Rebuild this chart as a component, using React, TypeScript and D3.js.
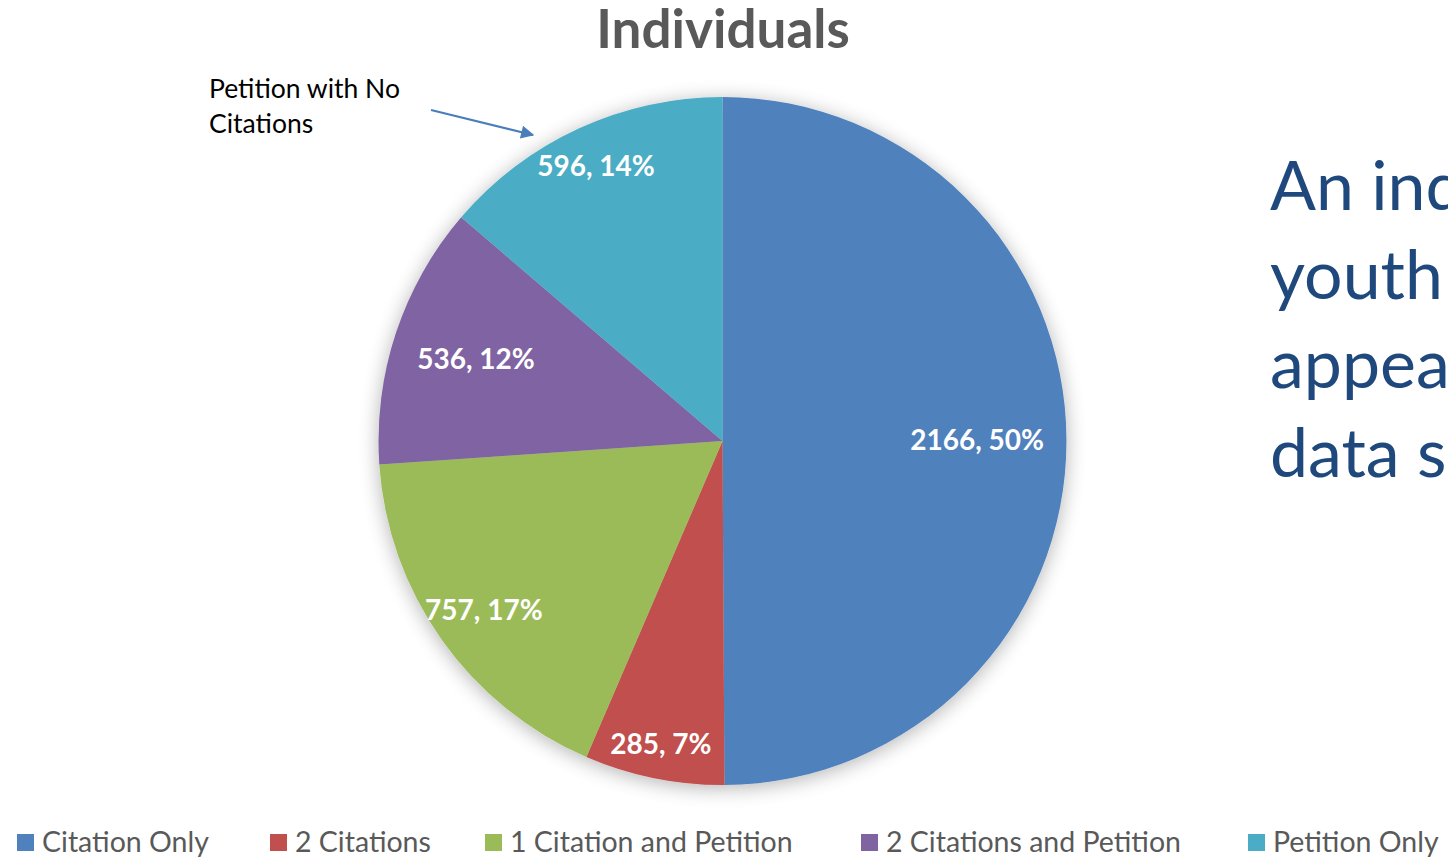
import { useEffect, useRef } from "react";
import * as d3 from "d3";

const categories = [
  "Citation Only",
  "2 Citations",
  "1 Citation and Petition",
  "2 Citations and Petition",
  "Petition Only",
];
const values = [2166, 285, 757, 536, 596];
const percentLabels = ["50%", "7%", "17%", "12%", "14%"];
const colors = ["#4F81BD", "#C0504D", "#9BBB59", "#8064A2", "#4BACC6"];

// label distance from center, as a share of the radius (Excel best fit)
const labelRadius = [0.74, 0.9, 0.85, 0.755, 0.88];
const legendX = [17, 270, 485, 861, 1248];

const sideText = ["An individual", "youth may", "appear in the", "data set"];

const FONT = "Lato, 'Noto Sans', sans-serif";

const App = () => {
  const svgRef = useRef<SVGSVGElement>(null);

  useEffect(() => {
    if (!svgRef.current) return;
    const svg = d3.select(svgRef.current);
    svg.selectAll("*").remove();

    const width = 1448;
    const height = 858;
    const cx = 722.5;
    const cy = 441;
    const r = 344;

    svg.attr("width", width).attr("height", height);

    const defs = svg.append("defs");
    const f = defs
      .append("filter")
      .attr("id", "pieShadow")
      .attr("x", "-20%")
      .attr("y", "-20%")
      .attr("width", "140%")
      .attr("height", "140%");
    f.append("feGaussianBlur").attr("in", "SourceAlpha").attr("stdDeviation", 10).attr("result", "blur");
    f.append("feOffset").attr("in", "blur").attr("dy", 3).attr("result", "off");
    f.append("feComponentTransfer")
      .attr("in", "off")
      .attr("result", "shadow")
      .append("feFuncA")
      .attr("type", "linear")
      .attr("slope", 0.3);
    const merge = f.append("feMerge");
    merge.append("feMergeNode").attr("in", "shadow");
    merge.append("feMergeNode").attr("in", "SourceGraphic");

    const marker = defs
      .append("marker")
      .attr("id", "arrowHead")
      .attr("viewBox", "0 0 10 10")
      .attr("refX", 9)
      .attr("refY", 5)
      .attr("markerWidth", 7)
      .attr("markerHeight", 6)
      .attr("markerUnits", "strokeWidth")
      .attr("orient", "auto");
    marker.append("path").attr("d", "M0,0 L10,5 L0,10 z").attr("fill", "#4A7EBB");

    // title
    svg
      .append("text")
      .attr("x", 723)
      .attr("y", 48)
      .attr("text-anchor", "middle")
      .attr("font-family", FONT)
      .attr("font-weight", 700)
      .attr("font-size", 53)
      .attr("fill", "#595959")
      .text("Individuals");

    const pie = d3
      .pie<number>()
      .sort(null)
      .value((d) => d);
    const arcs = pie(values);
    const arc = d3.arc<d3.PieArcDatum<number>>().innerRadius(0).outerRadius(r);

    const g = svg.append("g").attr("transform", `translate(${cx},${cy})`);

    g.append("g")
      .attr("filter", "url(#pieShadow)")
      .selectAll("path")
      .data(arcs)
      .join("path")
      .attr("d", arc)
      .attr("fill", (_, i) => colors[i]);

    g.selectAll(".label")
      .data(arcs)
      .join("text")
      .attr("class", "label")
      .attr("transform", (d, i) => {
        const a = (d.startAngle + d.endAngle) / 2;
        const rr = r * labelRadius[i];
        return `translate(${Math.sin(a) * rr},${-Math.cos(a) * rr})`;
      })
      .attr("text-anchor", "middle")
      .attr("dy", "0.36em")
      .attr("font-family", FONT)
      .attr("font-weight", 700)
      .attr("font-size", 28)
      .attr("fill", "#FFFFFF")
      .text((d, i) => `${d.data}, ${percentLabels[i]}`);

    // annotation
    const note = svg
      .append("text")
      .attr("font-family", FONT)
      .attr("font-size", 26.5)
      .attr("fill", "#000000");
    note.append("tspan").attr("x", 209).attr("y", 98).text("Petition with No");
    note.append("tspan").attr("x", 209).attr("y", 133).text("Citations");

    svg
      .append("line")
      .attr("x1", 431)
      .attr("y1", 110)
      .attr("x2", 533)
      .attr("y2", 135)
      .attr("stroke", "#4A7EBB")
      .attr("stroke-width", 2.2)
      .attr("marker-end", "url(#arrowHead)");

    // legend
    const leg = svg
      .append("g")
      .selectAll("g")
      .data(categories)
      .join("g")
      .attr("transform", (_, i) => `translate(${legendX[i]},842)`);
    leg
      .append("rect")
      .attr("x", 0)
      .attr("y", -8)
      .attr("width", 17)
      .attr("height", 17)
      .attr("fill", (_, i) => colors[i]);
    leg
      .append("text")
      .attr("x", 25)
      .attr("y", 0)
      .attr("dy", "0.36em")
      .attr("font-family", FONT)
      .attr("font-size", 28.5)
      .attr("fill", "#595959")
      .text((d) => d);

    // side text (runs past the page edge, as in the source slide)
    svg
      .append("g")
      .selectAll("text")
      .data(sideText)
      .join("text")
      .attr("x", 1270)
      .attr("y", (_, i) => 210 + i * 89)
      .attr("font-family", FONT)
      .attr("font-size", 68)
      .attr("fill", "#1F497D")
      .text((d) => d);
  }, []);

  return (
    <div style={{ position: "absolute", left: 0, top: 0, width: 1448, height: 858, overflow: "hidden", background: "#fff" }}>
      <svg ref={svgRef} style={{ display: "block" }}></svg>
    </div>
  );
};

export default App;
